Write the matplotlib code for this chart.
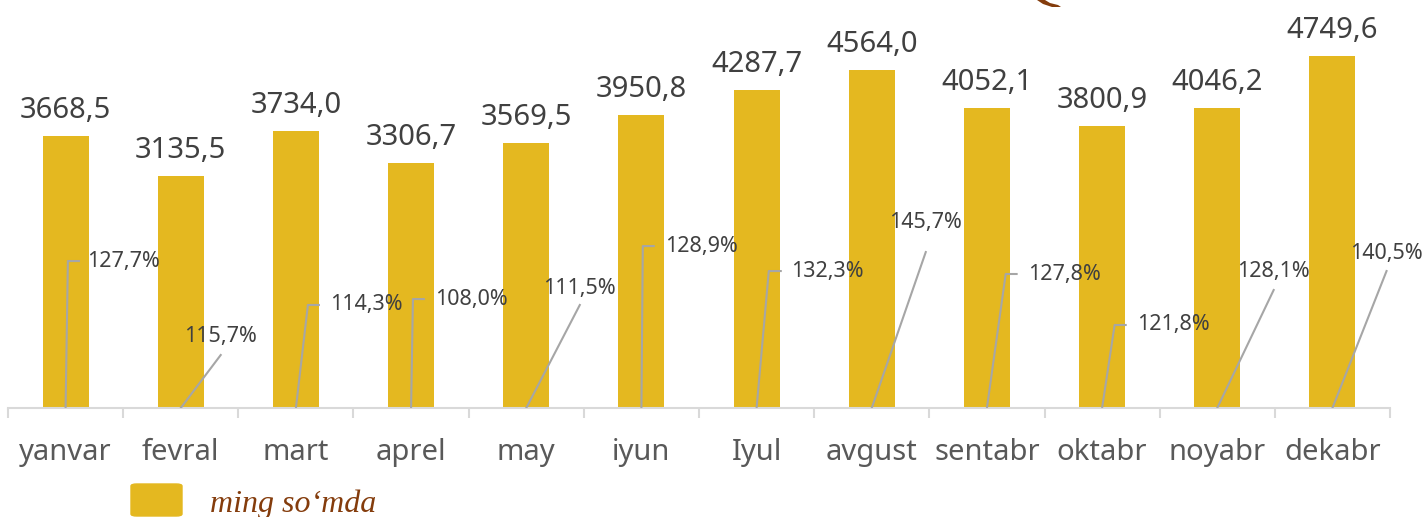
import matplotlib
matplotlib.use("Agg")
import matplotlib.pyplot as plt
from matplotlib.patches import FancyBboxPatch, Polygon

# ---- data ----
months = ["yanvar", "fevral", "mart", "aprel", "may", "iyun", "Iyul",
          "avgust", "sentabr", "oktabr", "noyabr", "dekabr"]
values = [3668.5, 3135.5, 3734.0, 3306.7, 3569.5, 3950.8, 4287.7,
          4564.0, 4052.1, 3800.9, 4046.2, 4749.6]
growth = [127.7, 115.7, 114.3, 108.0, 111.5, 128.9, 132.3,
          145.7, 127.8, 121.8, 128.1, 140.5]
legend_label = "ming so\u2018mda"

# ---- layout of the percentage labels (style, not data) ----
# side labels: (knee dx, label y, line end dx, text left dx)
# above labels: (line end dx, line end y, text centre y)
pct_layout = {
    0: ("side", 0.02, 1983, 0.125, 0.19),
    1: ("above", 0.347, 715, 958),
    2: ("side", 0.104, 1390, 0.208, 0.295),
    3: ("side", 0.016, 1470, 0.12, 0.206),
    4: ("above", 0.465, 1390, 1619),
    5: ("side", 0.012, 2185, 0.116, 0.203),
    6: ("side", 0.106, 1848, 0.219, 0.297),
    7: ("above", 0.469, 2104, 2509),
    8: ("side", 0.163, 1808, 0.267, 0.354),
    9: ("side", 0.109, 1120, 0.214, 0.301),
    10: ("above", 0.49, 1592, 1835),
    11: ("above", 0.47, 1848, 2091),
}

BAR = "#E4B820"
LEAD = "#A6A6A6"
AXC = "#D9D9D9"
TXT = "#404040"
FONT = "Noto Sans"

W, H = 1427, 517
fig = plt.figure(figsize=(W / 100, H / 100), dpi=100)
ax = fig.add_axes([8 / W, (H - 408) / H, (1390 - 8) / W, 408 / H])

x = list(range(len(months)))
ax.bar(x, values, width=0.4, color=BAR, zorder=2)
ax.set_xlim(-0.5, len(months) - 0.5)
ax.set_ylim(0, 5505)

for s in ["top", "right", "left"]:
    ax.spines[s].set_visible(False)
ax.spines["bottom"].set_color(AXC)
ax.spines["bottom"].set_linewidth(1.5)
ax.set_yticks([])
ax.set_xticks([i - 0.5 for i in range(len(months) + 1)])
ax.set_xticklabels([])
ax.tick_params(axis="x", length=7, width=1.5, color=AXC)

def fmt(v, d=1):
    return f"{v:.{d}f}".replace(".", ",")

# value labels
for i, v in enumerate(values):
    ax.annotate(fmt(v), (i, v), xytext=(0, 13), textcoords="offset points",
                ha="center", va="baseline", fontsize=21, color=TXT,
                family=FONT)

# category labels
for i, m in enumerate(months):
    ax.text(i, -(460 - 408) / 408, m, transform=ax.get_xaxis_transform(),
            ha="center", va="baseline", fontsize=21, color="#595959",
            family=FONT)

# percentage labels with leader lines
for i, g in enumerate(growth):
    lay = pct_layout[i]
    if lay[0] == "side":
        _, kx, ly, ex, tx = lay
        ax.plot([i, i + kx, i + ex], [0, ly, ly], color=LEAD, lw=1.5,
                zorder=3, solid_capstyle="butt")
        ax.text(i + tx, ly, fmt(g) + "%", ha="left", va="center",
                fontsize=15.5, color=TXT, family=FONT, zorder=4)
    else:
        _, ex, ey, ty = lay
        ax.plot([i, i + ex], [0, ey], color=LEAD, lw=1.5, zorder=3)
        ax.text(i + ex, ty, fmt(g) + "%", ha="center", va="center",
                fontsize=15.5, color=TXT, family=FONT, zorder=4)

# legend
fig.patches.append(FancyBboxPatch((131 / W, 1 / H), 51 / W, 32 / H,
                                  boxstyle="round,pad=0,rounding_size=0.004",
                                  transform=fig.transFigure, facecolor=BAR,
                                  edgecolor=BAR))
fig.text(210 / W, (H - 512) / H, legend_label, ha="left", va="baseline",
         fontsize=23, color="#843C0C", style="italic",
         family=["Liberation Serif", "DejaVu Serif"])

# decorative brown mark at the top
pts = [(1037, 0), (1043, 4), (1052, 7), (1061, 7), (1058, 5), (1050, 3), (1045, 0)]
fig.patches.append(Polygon([(px / W, 1 - py / H) for px, py in pts],
                           closed=True, transform=fig.transFigure,
                           facecolor="#843C0C", edgecolor="none"))

fig.savefig("out.png", dpi=100)
